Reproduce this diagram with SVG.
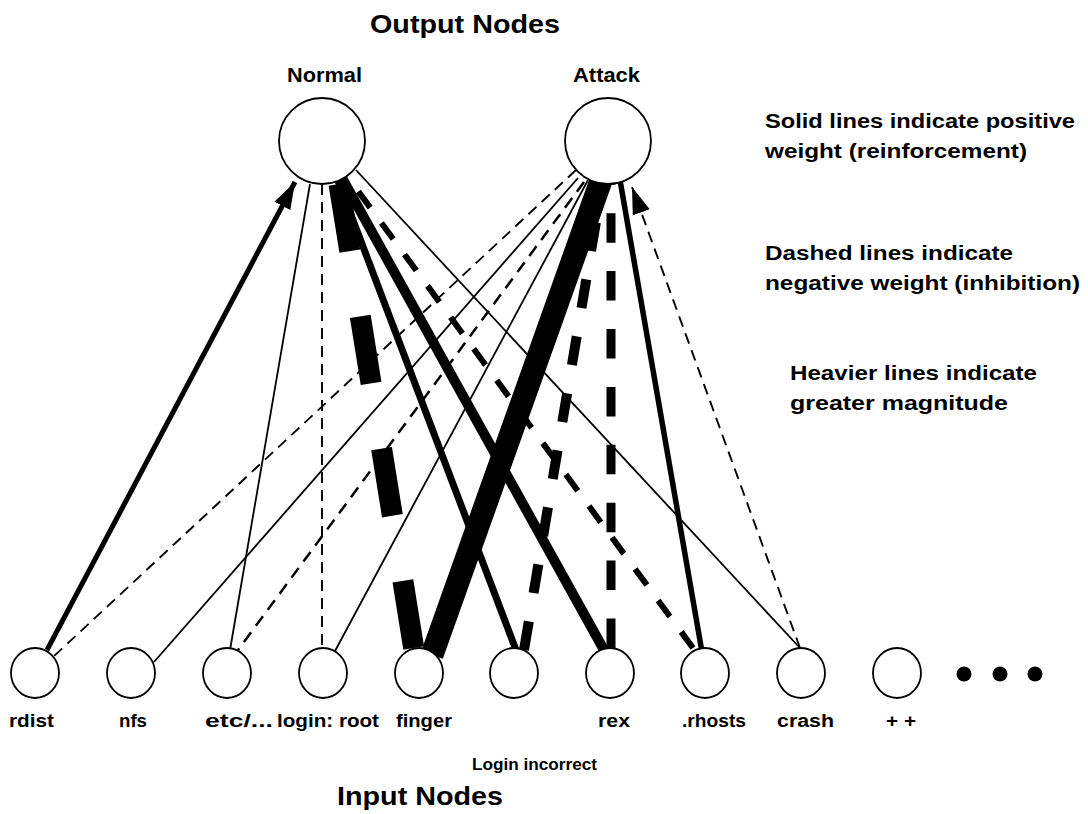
<svg xmlns="http://www.w3.org/2000/svg" width="1088" height="814" viewBox="0 0 1088 814">
<style>
text{font-family:"Liberation Sans",Arial,sans-serif;font-weight:bold;fill:#000}
.t{font-size:25px}
.o{font-size:20px}
.lbl{font-size:18px}
.note{font-size:20px}
.node{fill:#fff;stroke:#000;stroke-width:1.8}
.c{stroke:#000;fill:none;stroke-linecap:butt}
.thin{stroke-width:1.8}
.dthin{stroke-width:1.9;stroke-dasharray:11 7}
</style>
<defs>
<marker id="arr" markerUnits="userSpaceOnUse" markerWidth="30" markerHeight="20" refX="27" refY="9" orient="auto" viewBox="0 0 30 20">
<path d="M0,0 L27,9 L0,18 Z" fill="#000" stroke="none"/>
</marker>
</defs>
<rect width="1088" height="814" fill="#fff"/>
<text class="t" x="370" y="33" textLength="190" lengthAdjust="spacingAndGlyphs">Output Nodes</text>
<text class="t" x="337" y="805" textLength="166" lengthAdjust="spacingAndGlyphs">Input Nodes</text>
<g id="legend">
<text class="note" x="765" y="128" textLength="310" lengthAdjust="spacingAndGlyphs">Solid lines indicate positive</text>
<text class="note" x="765" y="158" textLength="262" lengthAdjust="spacingAndGlyphs">weight (reinforcement)</text>
<text class="note" x="765" y="260" textLength="248" lengthAdjust="spacingAndGlyphs">Dashed lines indicate</text>
<text class="note" x="765" y="290" textLength="315" lengthAdjust="spacingAndGlyphs">negative weight (inhibition)</text>
<text class="note" x="790" y="380" textLength="247" lengthAdjust="spacingAndGlyphs">Heavier lines indicate</text>
<text class="note" x="790" y="410" textLength="218" lengthAdjust="spacingAndGlyphs">greater magnitude</text>
</g>
<g id="connectors">
<!-- Normal side -->
<line class="c" x1="47" y1="650" x2="295" y2="182" stroke-width="5" marker-end="url(#arr)"/>
<line class="c thin" x1="310" y1="184" x2="230" y2="650"/>
<line class="c dthin" x1="322" y1="184" x2="322" y2="650"/>
<line class="c" x1="339" y1="184" x2="414" y2="650" stroke-width="21" stroke-dasharray="68 66"/>
<line class="c" x1="337" y1="178" x2="516" y2="650" stroke-width="7"/>
<line class="c" x1="342" y1="178" x2="604" y2="650" stroke-width="10"/>
<line class="c" x1="693" y1="648" x2="347" y2="176" stroke-width="6" stroke-dasharray="20 19"/>
<line class="c thin" x1="356" y1="170" x2="800" y2="648"/>
<!-- Attack side -->
<line class="c dthin" x1="576" y1="170" x2="52" y2="658"/>
<line class="c thin" x1="578" y1="178" x2="154" y2="662"/>
<line class="c" x1="584" y1="182" x2="238" y2="650" stroke-width="2.5" stroke-dasharray="12 8"/>
<line class="c thin" x1="588" y1="180" x2="335" y2="651"/>
<line class="c" x1="603" y1="175" x2="432" y2="655" stroke-width="23"/>
<line class="c" x1="524" y1="650" x2="603" y2="180" stroke-width="10" stroke-dasharray="29 28.8"/>
<line class="c" x1="611" y1="648" x2="611" y2="180" stroke-width="9" stroke-dasharray="29.5 28.4"/>
<line class="c" x1="702" y1="652" x2="620" y2="180" stroke-width="5.5"/>
<line class="c dthin" x1="800" y1="648" x2="632" y2="187" marker-end="url(#arr)"/>
</g>
<g id="normal"><circle class="node" cx="322" cy="141" r="43"/><text class="o" x="287" y="82" textLength="75" lengthAdjust="spacingAndGlyphs">Normal</text></g>
<g id="attack"><circle class="node" cx="608" cy="141" r="43"/><text class="o" x="573" y="82" textLength="67" lengthAdjust="spacingAndGlyphs">Attack</text></g>
<g id="in-rdist"><ellipse class="node" cx="35" cy="673" rx="24" ry="25"/><text class="lbl" x="9" y="727" textLength="45" lengthAdjust="spacingAndGlyphs">rdist</text></g>
<g id="in-nfs"><ellipse class="node" cx="131" cy="673" rx="24" ry="25"/><text class="lbl" x="119" y="727" textLength="28" lengthAdjust="spacingAndGlyphs">nfs</text></g>
<g id="in-etc"><ellipse class="node" cx="227" cy="673" rx="24" ry="25"/><text class="lbl" x="205" y="727" textLength="68" lengthAdjust="spacingAndGlyphs">etc/...</text></g>
<g id="in-login-root"><ellipse class="node" cx="323" cy="673" rx="24" ry="25"/><text class="lbl" x="277" y="727" textLength="102" lengthAdjust="spacingAndGlyphs">login: root</text></g>
<g id="in-finger"><ellipse class="node" cx="419" cy="673" rx="24" ry="25"/><text class="lbl" x="396" y="727" textLength="56" lengthAdjust="spacingAndGlyphs">finger</text></g>
<g id="in-login-incorrect"><ellipse class="node" cx="514" cy="673" rx="24" ry="25"/><text x="472" y="770" font-size="17" textLength="125" lengthAdjust="spacingAndGlyphs">Login incorrect</text></g>
<g id="in-rex"><ellipse class="node" cx="610" cy="673" rx="24" ry="25"/><text class="lbl" x="598" y="727" textLength="32" lengthAdjust="spacingAndGlyphs">rex</text></g>
<g id="in-rhosts"><ellipse class="node" cx="705" cy="673" rx="24" ry="25"/><text class="lbl" x="682" y="727" textLength="64" lengthAdjust="spacingAndGlyphs">.rhosts</text></g>
<g id="in-crash"><ellipse class="node" cx="801" cy="673" rx="24" ry="25"/><text class="lbl" x="777" y="727" textLength="57" lengthAdjust="spacingAndGlyphs">crash</text></g>
<g id="in-plusplus"><ellipse class="node" cx="897" cy="673" rx="24" ry="25"/><text class="lbl" x="886" y="727" textLength="30" lengthAdjust="spacingAndGlyphs">+ +</text></g>
<g id="more">
<circle cx="964" cy="674" r="7.5" fill="#000"/>
<circle cx="1000" cy="674" r="7.5" fill="#000"/>
<circle cx="1035" cy="674" r="7.5" fill="#000"/>
</g>
</svg>
